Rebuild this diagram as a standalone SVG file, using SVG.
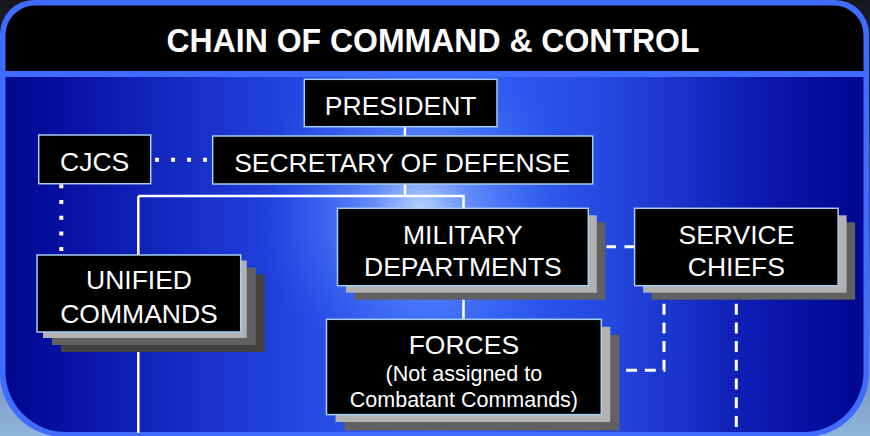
<svg xmlns="http://www.w3.org/2000/svg" width="870" height="436" viewBox="0 0 870 436">
<defs>
<style>
.box{fill:#000;stroke:#A6CDF2;stroke-width:1.5}
.s1{fill:#B2B2B2}
.s2{fill:#616161}
.s3{fill:#424242}
.t{font-family:"Liberation Sans",Arial,Helvetica,sans-serif;fill:#fff;font-size:26.5px;text-anchor:middle}
.sm{font-size:21.5px}
.solid{stroke:#fff;stroke-width:2.5;fill:none}
.dot{stroke:#fff;stroke-width:4;fill:none}
.dash{stroke:#fff;stroke-width:3;stroke-dasharray:11 7.7;fill:none}
</style>
<linearGradient id="bg" x1="0" y1="0" x2="0" y2="1">
<stop offset="0" stop-color="#14161e"/>
<stop offset="0.5" stop-color="#3a4c78"/>
<stop offset="1" stop-color="#8fb4dc"/>
</linearGradient>
<linearGradient id="bodyG" x1="0" y1="0" x2="1" y2="0">
<stop offset="0" stop-color="#00078F"/>
<stop offset="0.1" stop-color="#0A16AA"/>
<stop offset="0.3" stop-color="#1F3FDA"/>
<stop offset="0.5" stop-color="#3464F8"/>
<stop offset="0.7" stop-color="#2549E0"/>
<stop offset="0.88" stop-color="#0B19AE"/>
<stop offset="1" stop-color="#000790"/>
</linearGradient>
<radialGradient id="hl" cx="420" cy="212" r="165" gradientUnits="userSpaceOnUse">
<stop offset="0" stop-color="#CFE4FF" stop-opacity="0.9"/>
<stop offset="0.3" stop-color="#8DB6FF" stop-opacity="0.55"/>
<stop offset="1" stop-color="#3A6AFF" stop-opacity="0"/>
</radialGradient>
</defs>

<g id="frame">
<rect x="0" y="0" width="870" height="436" fill="url(#bg)"/>
<path d="M0,34 A34,34 0 0 1 34,0 L835,0 A34,34 0 0 1 869,34 L869,372 A64,64 0 0 1 805,437 L64,437 A64,64 0 0 1 0,372 Z" fill="#3F6BFF"/>
<path d="M5.5,35 A29.5,29.5 0 0 1 35,5.5 L834,5.5 A29.5,29.5 0 0 1 863.5,35 L863.5,71 L5.5,71 Z" fill="#000"/>
<path d="M5.5,77 L863.5,77 L863.5,372 A60,60 0 0 1 803.5,432 L66,432 A60.5,60.5 0 0 1 5.5,371.5 Z" fill="url(#bodyG)"/>
<path d="M5.5,77 L863.5,77 L863.5,372 A60,60 0 0 1 803.5,432 L66,432 A60.5,60.5 0 0 1 5.5,371.5 Z" fill="url(#hl)"/>
<text x="433" y="51.7" style="font-family:'Liberation Sans',Arial,sans-serif;font-weight:bold;font-size:34px;fill:#fff;text-anchor:middle" textLength="533" lengthAdjust="spacingAndGlyphs">CHAIN OF COMMAND &amp; CONTROL</text>
</g>

<g id="connectors">
<path class="solid" d="M405,126 V196"/>
<path class="solid" d="M138.3,196 H463.5 V319"/>
<path class="solid" d="M138.3,196 V433"/>
<path class="dot" d="M155,159.7 H207" stroke-dasharray="4 12"/>
<path class="dot" d="M61.3,184.3 V252" stroke-dasharray="4 11.7"/>
<path class="dash" d="M634,246.7 H588" style="stroke-dasharray:9.5 8.5"/>
<path class="dash" d="M664,285 V370.3 H601"/>
<path class="dash" d="M736.3,285 V428"/>
</g>

<g id="president">
<rect class="box" x="304.3" y="79.3" width="192.7" height="47.4"/>
<text class="t" x="400.7" y="115">PRESIDENT</text>
</g>

<g id="secdef">
<rect class="box" x="212.7" y="136" width="380" height="48"/>
<text class="t" x="402" y="171.5">SECRETARY OF DEFENSE</text>
</g>

<g id="cjcs">
<rect class="box" x="38.7" y="135" width="112" height="48.7"/>
<text class="t" x="94.7" y="170.7">CJCS</text>
</g>

<g id="unified">
<rect class="s3" x="61" y="274.5" width="203.7" height="77.5"/>
<rect class="s2" x="52" y="267.5" width="203.7" height="77.5"/>
<rect class="s1" x="43" y="260.5" width="203.7" height="77.5"/>
<rect class="box" x="37" y="255" width="203.7" height="77"/>
<text class="t" x="139" y="288.5">UNIFIED</text>
<text class="t" x="139" y="322.5">COMMANDS</text>
</g>

<g id="milDept">
<rect class="s2" x="354.5" y="222.3" width="250.8" height="77.4"/>
<rect class="s1" x="346" y="215.3" width="250.8" height="77.4"/>
<rect class="box" x="337.5" y="208.3" width="250.8" height="77.4"/>
<text class="t" x="462.9" y="244">MILITARY</text>
<text class="t" x="462.9" y="275.7">DEPARTMENTS</text>
</g>

<g id="serviceChiefs">
<rect class="s2" x="651.6" y="222.3" width="203.5" height="77.4"/>
<rect class="s1" x="643.1" y="215.3" width="203.5" height="77.4"/>
<rect class="box" x="634.6" y="208.3" width="203.5" height="77.4"/>
<text class="t" x="736.4" y="244">SERVICE</text>
<text class="t" x="736.4" y="275.7">CHIEFS</text>
</g>

<g id="forces">
<rect class="s2" x="344.5" y="334.8" width="274.8" height="95.7"/>
<rect class="s1" x="335.5" y="326.8" width="274.8" height="95.2"/>
<rect class="box" x="326.5" y="319.3" width="274.8" height="95.3"/>
<text class="t" x="463.9" y="354">FORCES</text>
<text class="t sm" x="463.9" y="380.5">(Not assigned to</text>
<text class="t sm" x="463.9" y="406.5">Combatant Commands)</text>
</g>
</svg>
